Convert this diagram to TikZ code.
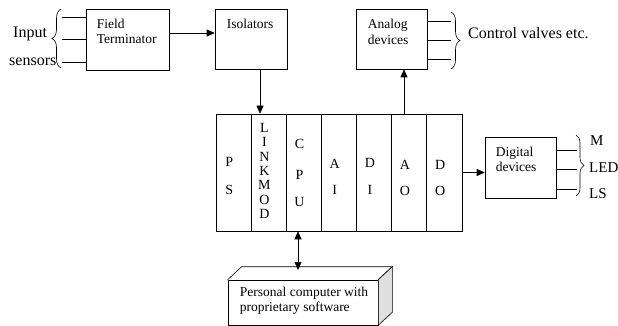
\documentclass[tikz,border=0pt]{standalone}
\usepackage{fontspec}
\setmainfont{Liberation Serif}
\usetikzlibrary{positioning,arrows.meta,calc,decorations.pathreplacing}
\tikzset{
  box/.style={draw,line width=0.6pt,inner sep=0pt},
  txt/.style={font=\fontsize{13.5}{15.5}\selectfont,align=left,inner sep=0pt,anchor=north west},
  big/.style={font=\fontsize{16}{18}\selectfont,inner sep=0pt,anchor=base west},
  sml/.style={font=\fontsize{15}{17}\selectfont,inner sep=0pt,anchor=base west},
  slot/.style={font=\fontsize{14}{14.4}\selectfont,align=center,inner sep=0pt},
  arr/.style={-{Triangle[length=8pt,width=7pt]},line width=0.6pt},
  arr2/.style={{Triangle[length=8pt,width=7pt]}-{Triangle[length=8pt,width=7pt]},line width=0.6pt},
  brc/.style={decorate,decoration={brace,amplitude=9pt},line width=0.6pt},
}
\begin{document}
\begin{tikzpicture}[x=1pt,y=-1pt]
\useasboundingbox (0,0) rectangle (618,326);
% top row
\node[box,minimum width=83,minimum height=61] (ft) at (127.5,39.5) {};
\node[txt] (ftt) at ([shift={(11,10)}]ft.north west) {Field\\Terminator};
\node[box,minimum width=72,minimum height=60] (iso) at (251,39) {};
\node[txt] (isot) at ([shift={(12,10.5)}]iso.north west) {Isolators};
\node[box,minimum width=71,minimum height=60] (ana) at (391.5,39) {};
\node[txt] (anat) at ([shift={(12,10.5)}]ana.north west) {Analog\\devices};
% the rack and its slots
\node[box,minimum width=246,minimum height=117] (rack) at (339,172.5) {};
\foreach \i in {1,...,6} {\draw[line width=0.6pt] ($(rack.north west)+(35.14*\i,0)$) -- ($(rack.south west)+(35.14*\i,0)$);}
\foreach \i/\txt/\dy in {1/{P\\[13pt]S}/3.5, 2/{L\\I\\N\\K\\M\\O\\D}/-1.5, 3/{C\\[17pt]P\\[13pt]U}/0.5, 4/{A\\[11pt]I}/4.5, 5/{D\\[12pt]I}/4, 6/{A\\[12pt]O}/5.5, 7/{D\\[12pt]O}/5.5}
  \node[slot] (s\i) at ($(rack.west)+(35.14*\i-17.57-4,\dy)$) {\txt};
% digital side
\node[box,minimum width=71,minimum height=61] (dig) at (520.5,167.5) {};
\node[txt] (digt) at ([shift={(11,10)}]dig.north west) {Digital\\devices};
% personal computer
\node[box,minimum width=150,minimum height=45] (pc) at (303,302.5) {};
\draw[line width=0.6pt] (pc.north west) -- ++(14,-13) -- ($(pc.north east)+(14,-13)$) -- (pc.north east);
\draw[line width=0.6pt,fill=gray!25] (pc.north east) -- ++(14,-13) -- ($(pc.south east)+(14,-13)$) -- (pc.south east) -- cycle;
\node[txt] (pct) at ([shift={(12,7)}]pc.north west) {Personal computer with\\proprietary software};
% connectors
\draw[arr] ([yshift=6.5pt]ft.east) -- ([yshift=6.5pt]ft.east -| iso.west);
\draw[arr] ([xshift=9pt]iso.south) -- ([xshift=9pt]iso.south |- rack.north);
\draw[arr] ([xshift=12.5pt]ana.south |- rack.north) -- ([xshift=12.5pt]ana.south);
\draw[arr] (rack.east) -- (rack.east -| dig.west);
\coordinate (pctop) at (298,270);
\draw[arr2] (pctop |- rack.south) -- (pctop);
% field wiring
\foreach \y in {17,39,62} {\draw[line width=0.6pt] (62,\y) -- (ft.west |- 0,\y);}
\foreach \y in {21,40,59} {\draw[line width=0.6pt] (ana.east |- 0,\y) -- (451,\y);}
\foreach \y in {150,169,189} {\draw[line width=0.6pt] (dig.east |- 0,\y) -- (577,\y);}
\draw[brc] (61,68) -- (61,9);
\draw[brc] (451,12) -- (451,69);
\draw[brc,decoration={amplitude=8pt}] (576,135) -- (576,196);
\node[big] (inp) at (13,37.3) {Input};
\node[big] (sen) at (9,65.6) {sensors};
\node[big] (cv) at (468,38.3) {Control valves etc.};
\node[sml] (m) at (590,146) {M};
\node[sml] (led) at (589,172) {LED};
\node[sml] (ls) at (589,198) {LS};
\end{tikzpicture}
\end{document}
